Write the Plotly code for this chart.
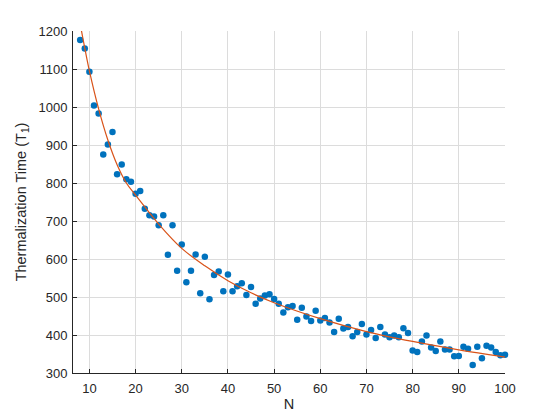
import plotly.graph_objects as go

# measured thermalization times, N = 8..100
n_vals = list(range(8, 101))
t_vals = [
    1176, 1154, 1093, 1004, 983, 875, 901, 934, 823, 849,   # 8-17
    810, 803, 772, 779, 732, 715, 712, 689, 715, 611,        # 18-27
    689, 569, 638, 539, 569, 612, 510, 606, 494, 558,        # 28-37
    567, 515, 559, 515, 528, 536, 505, 526, 482, 496,        # 38-47
    504, 507, 495, 482, 459, 473, 476, 440, 472, 449,        # 48-57
    437, 464, 438, 445, 433, 408, 443, 417, 421, 397,        # 58-67
    408, 429, 401, 413, 392, 421, 401, 394, 399, 394,        # 68-77
    418, 405, 359, 355, 383, 399, 367, 358, 383, 362,        # 78-87
    362, 344, 345, 369, 364, 321, 369, 339, 372, 367,        # 88-97
    355, 347, 348,                                           # 98-100
]

# fitted curve
fit_n = [7.5, 8, 9, 10, 12, 14, 16, 18, 20, 25, 30, 35, 40, 45, 50, 60, 70, 80, 90, 100]
fit_t = [1262, 1220, 1155, 1095, 995, 913, 848, 800, 768, 692, 628, 582, 543, 511, 485, 443, 409, 383, 361, 342]

x_ticks = [10, 20, 30, 40, 50, 60, 70, 80, 90, 100]
y_ticks = [300, 400, 500, 600, 700, 800, 900, 1000, 1100, 1200]

fig = go.Figure()

fig.add_trace(go.Scatter(
    x=n_vals, y=t_vals, mode='markers',
    marker=dict(color='#0072BD', size=6.5, line=dict(width=0)),
    showlegend=False, cliponaxis=False,
))

fig.add_trace(go.Scatter(
    x=fit_n, y=fit_t, mode='lines',
    line=dict(color='#D95319', width=1.2, shape='spline', smoothing=1.0),
    showlegend=False,
))

axis_common = dict(
    showgrid=True, gridcolor='#dcdcdc', gridwidth=1, automargin=False,
    zeroline=False, ticks='inside', ticklen=4, tickcolor='#262626',
    showline=True, linecolor='#262626', linewidth=1,
    tickfont=dict(family='Liberation Sans, Arial', size=13, color='#262626'),
)

# page body has an 8px margin on every side, so keep the page at 560x420
fig.update_layout(
    width=552, height=404,
    paper_bgcolor='white', plot_bgcolor='white',
    margin=dict(l=65, r=55, t=23, b=39),
    xaxis=dict(
        range=[6.45, 100], tickvals=x_ticks, ticklabelstandoff=3,
        title=dict(text='N', standoff=10,
                   font=dict(family='Liberation Sans, Arial', size=14.5, color='#262626')),
        **axis_common,
    ),
    yaxis=dict(
        range=[300, 1200], tickvals=y_ticks, ticklabelstandoff=2,
        title=dict(text='Thermalization Time (T<sub>1</sub>)', standoff=8,
                   font=dict(family='Liberation Sans, Arial', size=14.5, color='#262626')),
        **axis_common,
    ),
)

fig.write_html("out.html")
